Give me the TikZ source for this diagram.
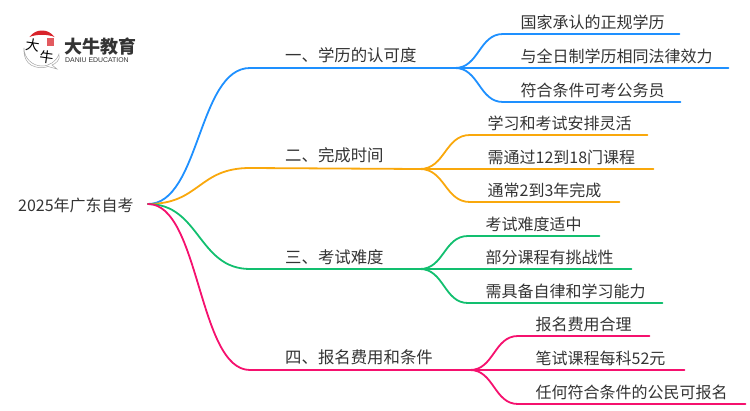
\documentclass[tikz,border=0pt]{standalone}
\usepackage{fontspec}
\setmainfont{Noto Sans CJK SC}
\newfontfamily\latinfont{Liberation Sans}
\usepackage{xcolor}
\definecolor{blueline}{HTML}{1E90FF}
\definecolor{orangeline}{HTML}{F9A80C}
\definecolor{greenline}{HTML}{12BF6F}
\definecolor{pinkline}{HTML}{F5116E}
\definecolor{textgray}{HTML}{333333}
\definecolor{logored}{HTML}{D8232A}
\tikzset{
  leaf/.style={anchor=south west,inner xsep=0pt,inner ysep=0pt,text height=14pt,text depth=5.5pt,
               align=left,font=\fontsize{16}{18}\selectfont,text=textgray,
               execute at begin node={\hspace*{17.5pt}}},
  topic/.style={anchor=west,inner sep=0pt,font=\fontsize{16.4}{18}\selectfont,text=textgray},
  wire/.style={line width=1.8pt,line cap=round}
}

\begin{document}
\begin{tikzpicture}[x=1pt,y=-1pt]
\useasboundingbox (0,0) rectangle (750,410);

% root and topics
\node[topic,font=\fontsize{16}{18}\selectfont] (ROOT) at (18,205) {2025年广东自考};
\coordinate (START) at (148,204);

\node[topic] (T1) at (285,55) {一、学历的认可度};
\node[topic] (T2) at (285,155) {二、完成时间};
\node[topic] (T3) at (285,257) {三、考试难度};
\node[topic] (T4) at (285,357) {四、报名费用和条件};

\coordinate (J1) at (455,68);
\coordinate (J2) at (420,169);
\coordinate (J3) at (420,269);
\coordinate (J4) at (470,370);

% leaves
\node[leaf,text width=176pt] (L11) at (503,34) {国家承认的正规学历};
\node[leaf,text width=225pt] (L12) at (503,68) {与全日制学历相同法律效力};
\node[leaf,text width=177pt] (L13) at (503,102) {符合条件可考公务员};

\node[leaf,text width=177pt] (L21) at (470,135) {学习和考试安排灵活};
\node[leaf,text width=183pt] (L22) at (470,169) {需通过12到18门课程};
\node[leaf,text width=149pt] (L23) at (470,202) {通常2到3年完成};

\node[leaf,text width=131pt] (L31) at (468,236) {考试难度适中};
\node[leaf,text width=163pt] (L32) at (468,269) {部分课程有挑战性};
\node[leaf,text width=194pt] (L33) at (468,303) {需具备自律和学习能力};

\node[leaf,text width=131pt] (L41) at (518,336) {报名费用合理};
\node[leaf,text width=166pt] (L42) at (518,370) {笔试课程每科52元};
\node[leaf,text width=227pt] (L43) at (518,404) {任何符合条件的公民可报名};

% topic lines
\draw[wire,blueline] (START) .. controls (200,204) and (198,68) .. (250,68) -- (J1);
\draw[wire,orangeline] (START) .. controls (200,204) and (198,168) .. (250,168) -- (J2);
\draw[wire,greenline] (START) .. controls (200,204) and (198,269) .. (250,269) -- (J3);
\draw[wire,pinkline] (START) .. controls (200,204) and (198,370) .. (250,370) -- (J4);

% leaf lines
\foreach \leaf in {L11,L12,L13}
  \draw[wire,blueline] (J1) .. controls +(24,0) and +(-24,0) .. (\leaf.south west) -- (\leaf.south east);
\foreach \leaf in {L21,L22,L23}
  \draw[wire,orangeline] (J2) .. controls +(25,0) and +(-25,0) .. (\leaf.south west) -- (\leaf.south east);
\foreach \leaf in {L31,L32,L33}
  \draw[wire,greenline] (J3) .. controls +(24,0) and +(-24,0) .. (\leaf.south west) -- (\leaf.south east);
\foreach \leaf in {L41,L42,L43}
  \draw[wire,pinkline] (J4) .. controls +(24,0) and +(-24,0) .. (\leaf.south west) -- (\leaf.south east);

% logo
\draw[line width=0.5pt,draw=gray!70,fill=white] (36,67) .. controls (22,64) and (24,48) .. (24,48)
  arc(180:20:18) .. controls (61,60) and (55,64) .. (52,65) -- (57,69) -- (48,66.5) .. controls (44,68) and (40,68) .. (36,67) -- cycle;
\fill[logored] (29.5,37) .. controls (33,32.5) and (37,30.5) .. (42,30.5) .. controls (47,30.5) and (51,32.5) .. (54.5,37)
  .. controls (47,34) and (37,34) .. (29.5,37) -- cycle;
\node[inner sep=0pt,font=\fontsize{14}{14}\selectfont,rotate=-8] (DA) at (32.5,45) {大};
\node[inner sep=0pt,font=\fontsize{14}{14}\selectfont,rotate=-8] (NIU) at (46.5,57) {牛};
\fill[logored!75] (47,38) rectangle (54,46);
\node[anchor=west,inner sep=0pt,font=\fontsize{18}{18}\selectfont\bfseries,text=textgray] (NAME) at (64,46.5) {大牛教育};
\node[anchor=west,inner sep=0pt,font=\latinfont\fontsize{6.9}{8}\selectfont,text=textgray] (NAMEEN) at (65,60.5) {DANIU EDUCATION};

\end{tikzpicture}
\end{document}
